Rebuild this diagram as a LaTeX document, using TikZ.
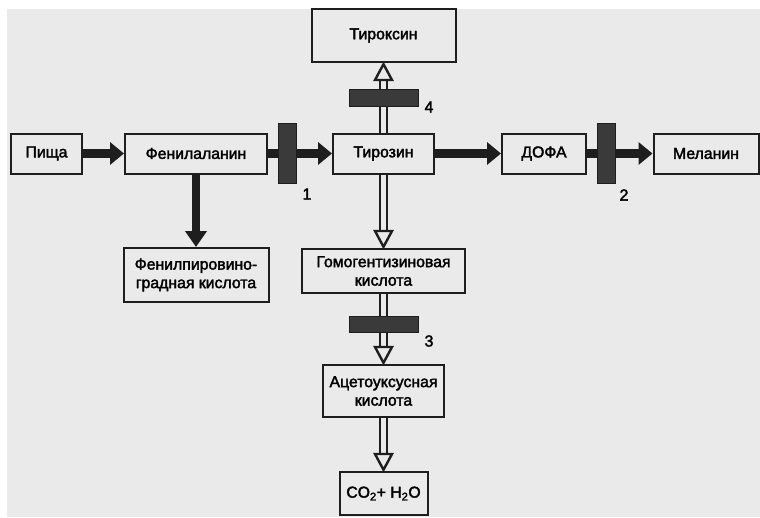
\documentclass[tikz,border=0pt]{standalone}
\usepackage{fontspec}
\setmainfont{Liberation Sans}[FakeBold=2.2]
\usepackage{tikz}
\usetikzlibrary{arrows.meta, decorations.markings}
\definecolor{pagegray}{HTML}{EAEAEA}
\definecolor{ink}{HTML}{1E1E1E}
\definecolor{blockgray}{HTML}{3A3A3A}

\tikzset{
  stagebox/.style={draw=ink, line width=2pt, fill=pagegray, align=center,
                   font=\fontsize{15.8}{18.5}\selectfont, inner sep=0pt},
  blocker/.style={fill=blockgray, draw=ink, line width=0.8pt, inner sep=0pt},
  fatarrow/.style={draw=ink, line width=9pt, -{Triangle[length=14pt, width=22pt]}},
  openarrow/.style={draw=ink, double=pagegray, double distance=5pt, line width=2.4pt,
                    shorten >=14pt,
                    postaction={decorate, decoration={markings,
                      mark=at position 1 with {\draw[ink, fill=pagegray, line width=2.4pt, line join=miter]
                        (-1.2pt,0pt) -- (-17pt,8.5pt) -- (-17pt,-8.5pt) -- cycle;}}}},
  stepnum/.style={font=\fontsize{16}{16}\selectfont, inner sep=0pt}
}

\begin{document}
\begin{tikzpicture}[x=1pt, y=-1pt]
    \useasboundingbox (0,0) rectangle (760,517);
    \fill[pagegray] (7,9) rectangle (760,517);

    % main line
    \node[stagebox, minimum width=71pt, minimum height=40pt] (food) at (46.5,153.5) {Пища};
    \node[stagebox, minimum width=142pt, minimum height=40pt] (phe) at (196,153.5) {Фенилаланин};
    \node[stagebox, minimum width=101pt, minimum height=40pt] (tyr) at (383.5,153.5) {Тирозин};
    \node[stagebox, minimum width=84pt, minimum height=40pt] (dopa) at (544,153.5) {ДОФА};
    \node[stagebox, minimum width=105pt, minimum height=40pt] (mel) at (706,153.5) {Меланин};

    % side branches
    \node[stagebox, minimum width=144pt, minimum height=53pt] (thyr) at (383.5,35.5) {Тироксин};
    \node[stagebox, minimum width=145pt, minimum height=54pt] (ppa) at (196,275) {Фенилпировино-\\градная кислота};
    \node[stagebox, minimum width=163pt, minimum height=44pt] (hga) at (383.5,271) {Гомогентизиновая\\кислота};
    \node[stagebox, minimum width=121pt, minimum height=52pt] (aaa) at (383.5,391) {Ацетоуксусная\\кислота};
    \node[stagebox, minimum width=88pt, minimum height=43pt] (co2) at (383.5,493.5) {CO\textsubscript{2}+ H\textsubscript{2}O};

    \draw[fatarrow] (food) -- (phe);
    \draw[fatarrow] (phe) -- (tyr);
    \draw[fatarrow] (tyr) -- (dopa);
    \draw[fatarrow] (dopa) -- (mel);
    \draw[fatarrow, line width=8pt, -{Triangle[length=16pt, width=21pt]}] (phe) -- (ppa);

    \draw[openarrow] (tyr.north) -- (thyr.south);
    \draw[openarrow] (tyr.south) -- (hga.north);
    \draw[openarrow] (hga.south) -- (aaa.north);
    \draw[openarrow] (aaa.south) -- (co2.north);

    % blocked steps
    \node[blocker, minimum width=18pt, minimum height=60pt] (blk1) at (287,153) {};
    \node[blocker, minimum width=18pt, minimum height=60pt] (blk2) at (606,153) {};
    \node[blocker, minimum width=69pt, minimum height=17pt] (blk4) at (383.5,97.5) {};
    \node[blocker, minimum width=69pt, minimum height=16pt] (blk3) at (383.5,324.5) {};

    \node[stepnum] (n1) at (307,194) {1};
    \node[stepnum] (n2) at (624,195) {2};
    \node[stepnum] (n4) at (429,107) {4};
    \node[stepnum] (n3) at (429,341) {3};
\end{tikzpicture}
\end{document}
